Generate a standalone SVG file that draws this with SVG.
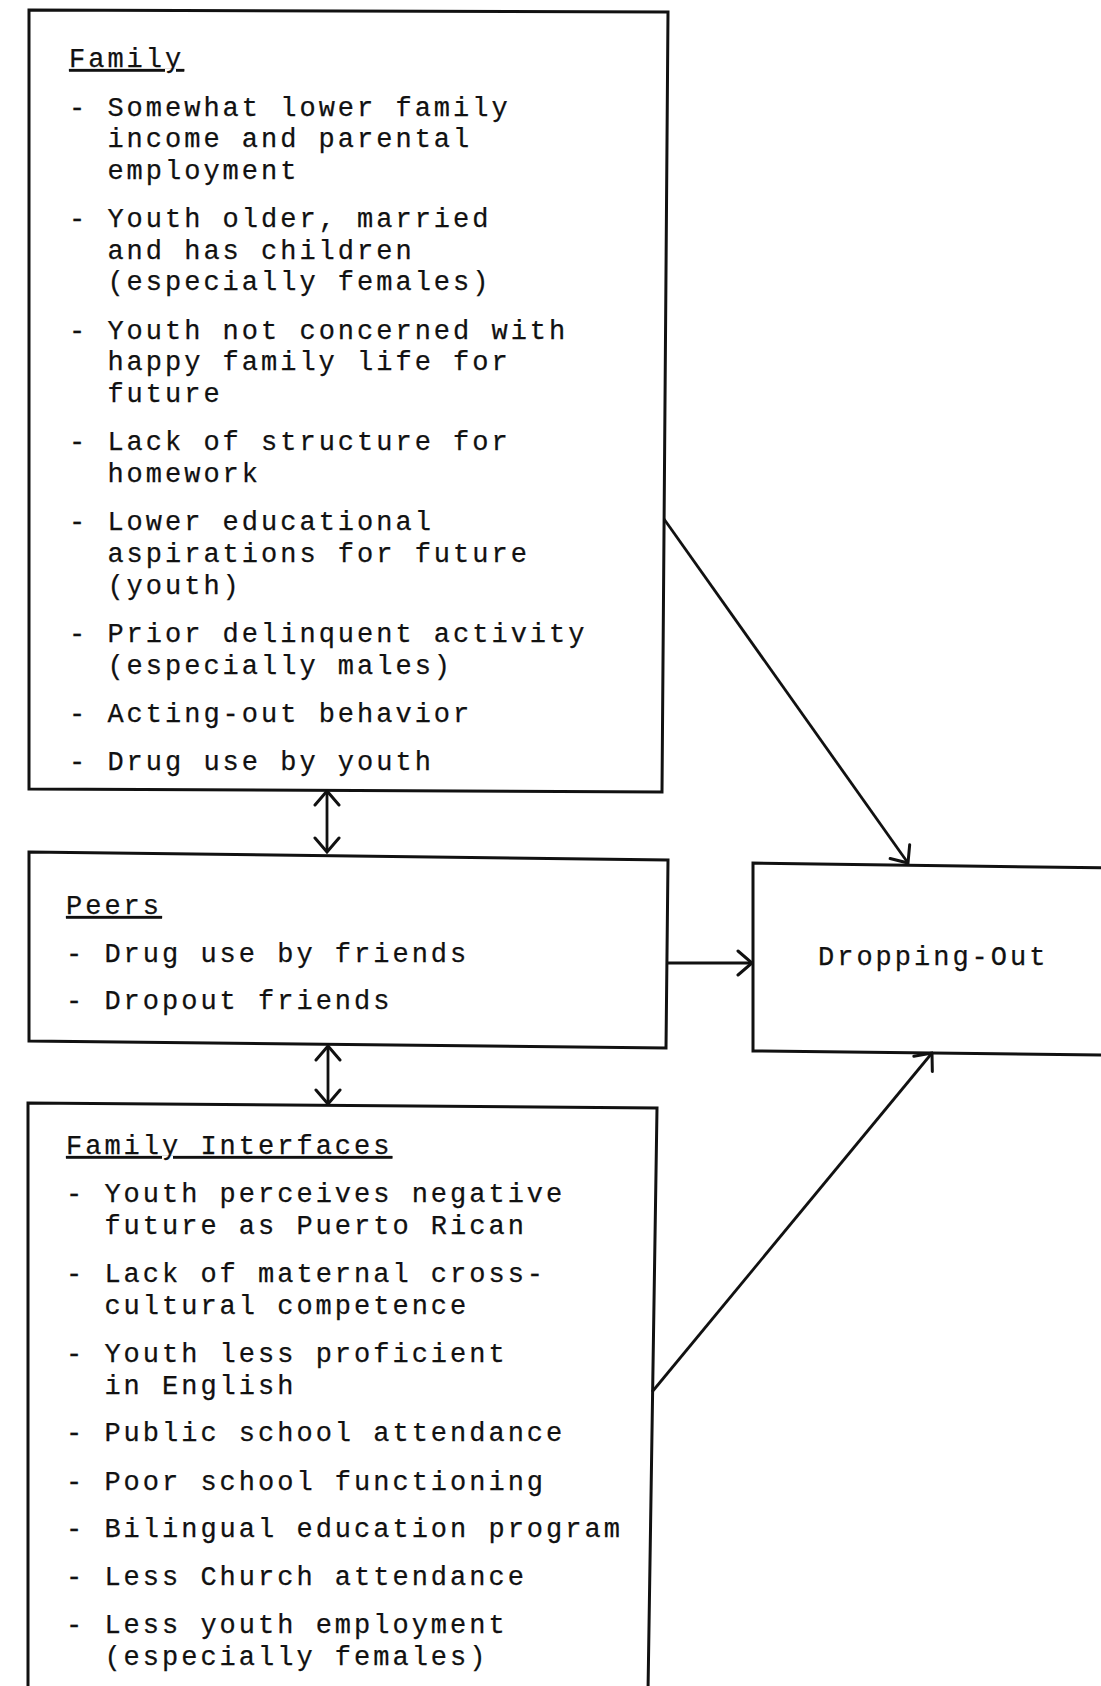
<svg xmlns="http://www.w3.org/2000/svg" width="1101" height="1686" viewBox="0 0 1101 1686">
<style>
  .bg { fill: #ffffff; }
  .box { fill: none; stroke: #111; stroke-width: 3; stroke-linejoin: miter; }
  .t { font-family: "Liberation Mono", "Courier New", monospace; font-size: 27px; letter-spacing: 3px; fill: #111; stroke: #111; stroke-width: 0.25; }
  .h { text-decoration: underline; }
  .conn { fill: none; stroke: #111; stroke-width: 2.8; }
</style>
<defs>
  <marker id="ah" viewBox="-17 -14 19 28" refX="0" refY="0" markerWidth="19" markerHeight="28" markerUnits="userSpaceOnUse" orient="auto-start-reverse">
    <path d="M-14,-12 L0,0 L-14,12" fill="none" stroke="#111" stroke-width="3" stroke-linecap="round" stroke-linejoin="miter"/>
  </marker>
</defs>
<rect class="bg" x="0" y="0" width="1101" height="1686"/>

<g id="node-family">
  <path class="box" d="M29,10 L668,12 L662,792 L29,789 Z"/>
  <text class="t h" x="69" y="67">Family</text>
  <text class="t" x="69" y="115.5">- Somewhat lower family</text>
  <text class="t" x="107.4" y="147.1">income and parental</text>
  <text class="t" x="107.4" y="178.7">employment</text>
  <text class="t" x="69" y="227.1">- Youth older, married</text>
  <text class="t" x="107.4" y="258.7">and has children</text>
  <text class="t" x="107.4" y="290.3">(especially females)</text>
  <text class="t" x="69" y="338.7">- Youth not concerned with</text>
  <text class="t" x="107.4" y="370.3">happy family life for</text>
  <text class="t" x="107.4" y="401.9">future</text>
  <text class="t" x="69" y="450.3">- Lack of structure for</text>
  <text class="t" x="107.4" y="481.9">homework</text>
  <text class="t" x="69" y="530.3">- Lower educational</text>
  <text class="t" x="107.4" y="561.9">aspirations for future</text>
  <text class="t" x="107.4" y="593.5">(youth)</text>
  <text class="t" x="69" y="641.9">- Prior delinquent activity</text>
  <text class="t" x="107.4" y="673.5">(especially males)</text>
  <text class="t" x="69" y="721.9">- Acting-out behavior</text>
  <text class="t" x="69" y="770.3">- Drug use by youth</text>
</g>

<g id="node-peers">
  <path class="box" d="M29,852 L668,860 L666,1048 L29,1041 Z"/>
  <text class="t h" x="66" y="914">Peers</text>
  <text class="t" x="66" y="962">- Drug use by friends</text>
  <text class="t" x="66" y="1009">- Dropout friends</text>
</g>

<g id="node-dropping-out">
  <path class="box" d="M1110,868 L753,863 L753,1051 L1110,1055"/>
  <text class="t" x="818" y="965">Dropping-Out</text>
</g>

<g id="node-family-interfaces">
  <path class="box" d="M28,1692 L28,1103 L657,1108 L648,1692"/>
  <text class="t h" x="66" y="1154">Family Interfaces</text>
  <text class="t" x="66" y="1201.5">- Youth perceives negative</text>
  <text class="t" x="104.4" y="1233.7">future as Puerto Rican</text>
  <text class="t" x="66" y="1282">- Lack of maternal cross-</text>
  <text class="t" x="104.4" y="1314">cultural competence</text>
  <text class="t" x="66" y="1361.7">- Youth less proficient</text>
  <text class="t" x="104.4" y="1394">in English</text>
  <text class="t" x="66" y="1441">- Public school attendance</text>
  <text class="t" x="66" y="1489.6">- Poor school functioning</text>
  <text class="t" x="66" y="1537">- Bilingual education program</text>
  <text class="t" x="66" y="1585">- Less Church attendance</text>
  <text class="t" x="66" y="1632.6">- Less youth employment</text>
  <text class="t" x="104.4" y="1665">(especially females)</text>
</g>

<g id="connectors">
  <path class="conn" d="M664,519 L908,863" marker-end="url(#ah)"/>
  <path class="conn" d="M667,963 L752,963" marker-end="url(#ah)"/>
  <path class="conn" d="M652,1392 L932,1053" marker-end="url(#ah)"/>
  <path class="conn" d="M327,791 L327,852" marker-start="url(#ah)" marker-end="url(#ah)"/>
  <path class="conn" d="M328,1046 L328,1104" marker-start="url(#ah)" marker-end="url(#ah)"/>
</g>
</svg>
